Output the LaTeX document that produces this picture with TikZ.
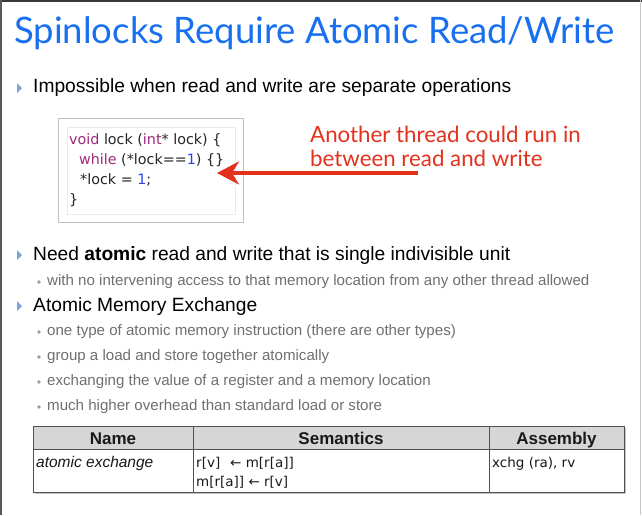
\documentclass[tikz,border=0pt]{standalone}
\usepackage{fontspec}
\setmainfont{Liberation Sans}
\newfontfamily\titlefont{Lato}
\newfontfamily\codefont{DejaVu Sans}
\usetikzlibrary{arrows.meta,shadows}

\definecolor{titleblue}{RGB}{24,112,240}
\definecolor{calloutred}{RGB}{226,50,30}
\definecolor{subgray}{RGB}{112,112,112}
\definecolor{kwpurple}{RGB}{158,40,120}
\definecolor{numblue}{RGB}{40,70,235}
\definecolor{bulletblue}{RGB}{120,165,220}
\definecolor{headgray}{RGB}{214,214,214}
\definecolor{rulegray}{RGB}{80,80,80}

\tikzset{
  bodytext/.style={anchor=west, inner sep=0pt, font=\fontsize{19.2}{19.2}\selectfont, text=black},
  subtext/.style={anchor=west, inner sep=0pt, font=\fontsize{15.1}{15.1}\selectfont, text=subgray},
  subdot/.style={circle, fill=subgray!70, inner sep=0pt, minimum size=3.6pt},
  bullettri/.style={fill=bulletblue},
  headtext/.style={anchor=base, inner sep=0pt, font=\fontsize{17}{17}\selectfont\bfseries, text=black!90},
  celltext/.style={anchor=base west, inner sep=0pt, font=\codefont\fontsize{13.5}{13.5}\selectfont, text=black!90},
  tablerule/.style={draw=rulegray, line width=1pt},
  calloutarrow/.style={draw=calloutred, line width=3.2pt,
    -{Stealth[length=22pt, width=23pt, inset=7pt]}},
}

\begin{document}
\begin{tikzpicture}[x=1pt, y=-1pt]
  % page
  \fill[white] (0,0) rectangle (642,515);
  \useasboundingbox (0,0) rectangle (642,515);
  \draw[line width=2pt, black!78] (0,1) -- (642,1);
  \draw[line width=1.5pt, black!65] (0.75,0) -- (0.75,515);
  \draw[line width=0.8pt, black!22] (640.6,0) -- (640.6,515);

  % heading
  \node[anchor=base west, inner sep=0pt, text=titleblue,
        font=\titlefont\fontsize{36.5}{36.5}\selectfont] (title) at (14,43)
        {Spinlocks Require Atomic Read/Write};

  % first point
  \fill[bullettri] (17,83) -- (22,88) -- (17,93) -- cycle;
  \node[bodytext] (p1) at (33,88) {Impossible when read and write are separate operations};

  % code listing
  \draw[draw=black!25, fill=white, line width=0.8pt,
        drop shadow={shadow xshift=1pt, shadow yshift=-1pt, opacity=.25}]
        (58,118) rectangle (243,222);
  \draw[draw=black!8, line width=0.8pt] (67,127) rectangle (235,214);
  \node[anchor=north west, inner sep=0pt, align=left, text=black!85,
        font=\codefont\fontsize{14.3}{20}\selectfont] (code) at (69,133)
  {\textcolor{kwpurple}{void} lock (\textcolor{kwpurple}{int}* lock) \{\\
   \hspace{10pt}\textcolor{kwpurple}{while} (*lock==\textcolor{numblue}{1}) \{\}\\
   \hspace{11pt}*lock = \textcolor{numblue}{1};\\
   \}};

  % remark about the race
  \node[anchor=north west, inner sep=0pt, align=left, text=calloutred,
        font=\titlefont\fontsize{22.3}{23.5}\selectfont] (remark) at (310,126)
  {Another thread could run in\\ between read and write};
  \coordinate (arrowtail) at (418,173);
  \coordinate (arrowtip) at (217,173);
  \draw[calloutarrow] (arrowtail) -- (arrowtip);

  % second point
  \fill[bullettri] (17,250) -- (22,255) -- (17,260) -- cycle;
  \node[bodytext] (p2) at (33,256) {Need \textbf{atomic} read and write that is single indivisible unit};
  \node[subdot] (d1) at (39,282) {};
  \node[subtext] (s1) at (47,282) {with no intervening access to that memory location from any other thread allowed};

  % third point
  \fill[bullettri] (17,301) -- (22,306) -- (17,311) -- cycle;
  \node[bodytext] (p3) at (33,307) {Atomic Memory Exchange};
  \node[subdot] (d2) at (39,332) {};
  \node[subtext] (s2) at (47,332) {one type of atomic memory instruction (there are other types)};
  \node[subdot] (d3) at (39,357) {};
  \node[subtext] (s3) at (47,357) {group a load and store together atomically};
  \node[subdot] (d4) at (39,382) {};
  \node[subtext] (s4) at (47,382) {exchanging the value of a register and a memory location};
  \node[subdot] (d5) at (39,407) {};
  \node[subtext] (s5) at (47,407) {much higher overhead than standard load or store};

  % table
  \fill[white, drop shadow={shadow xshift=1.5pt, shadow yshift=-1.5pt, opacity=.45}]
        (33,426) rectangle (624,492);
  \fill[headgray] (33,426) rectangle (624,449);
  \draw[tablerule] (33,426) rectangle (624,492);
  \draw[tablerule] (33,449) -- (624,449);
  \draw[tablerule] (193,426) -- (193,492);
  \draw[tablerule] (489,426) -- (489,492);
  \node[headtext] (hname) at (113,444) {Name};
  \node[headtext] (hsem) at (341,444) {Semantics};
  \node[headtext] (hasm) at (556.5,444) {Assembly};
  \node[celltext, font=\fontsize{15.5}{15.5}\selectfont\itshape] (cname) at (36,467) {atomic exchange};
  \node[celltext] (sema) at (196,467) {r[v]};
  \node[celltext] (semb) at (230,467) {← m[r[a]]};
  \node[celltext] (semc) at (196,486) {m[r[a]] ← r[v]};
  \node[celltext] (casm) at (492,467) {xchg (ra), rv};
\end{tikzpicture}
\end{document}
